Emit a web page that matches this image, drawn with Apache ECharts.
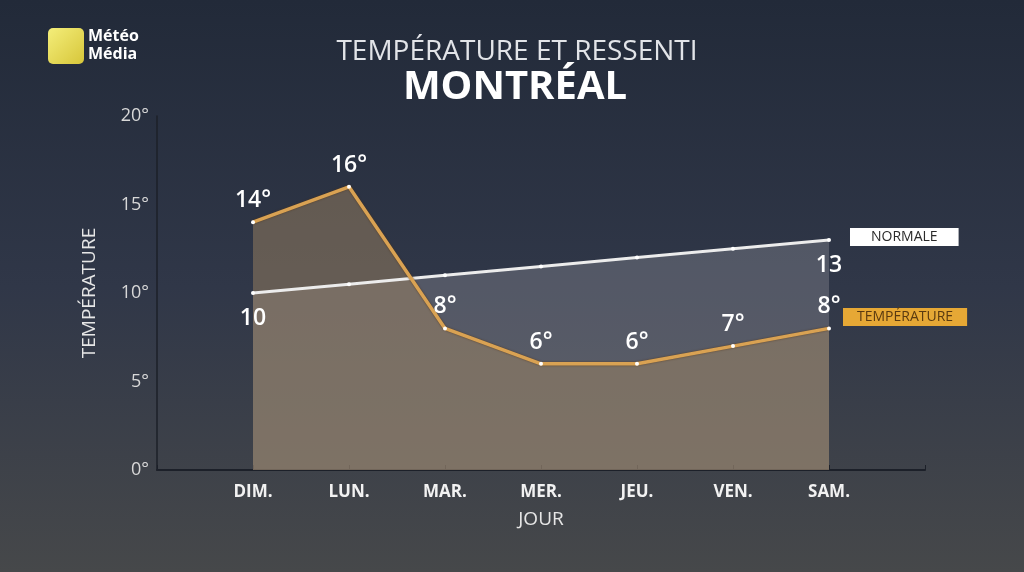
<!DOCTYPE html>
<html><head><meta charset="utf-8">
<script src="https://cdn.jsdelivr.net/npm/echarts@6/dist/echarts.min.js"></script>
<style>html,body{margin:0;padding:0;background:#2a3040}#c{width:1024px;height:572px}</style>
</head><body><div id="c"></div>
<script>
const days = ['DIM.', 'LUN.', 'MAR.', 'MER.', 'JEU.', 'VEN.', 'SAM.'];
const temperature = [14, 16, 8, 6, 6, 7, 8];
const normale = [10, 10.5, 11, 11.5, 12, 12.5, 13];
const normaleLabels = ['10', '', '', '', '', '', '13'];
const yTicks = [0, 5, 10, 15, 20];

const chart = echarts.init(document.getElementById('c'));
const font = '"Open Sans", "DejaVu Sans", sans-serif';
const tempPts = temperature.map((v, i) => [i, v]);
const normPts = normale.map((v, i) => [i, v]);
chart.setOption({
  backgroundColor: new echarts.graphic.LinearGradient(0, 0, 0, 1, [
    {offset: 0, color: '#222a39'},
    {offset: 0.5, color: '#303748'},
    {offset: 1, color: '#46484a'}
  ]),
  animation: false,
  title: [
    {text: 'TEMPÉRATURE ET RESSENTI', left: 512, top: 33, textAlign: 'center',
     textStyle: {color: '#e2e4e8', fontSize: 28, fontWeight: 'normal', fontFamily: font}},
    {text: 'MONTRÉAL', left: 510, top: 63, textAlign: 'center',
     textStyle: {color: '#ffffff', fontSize: 40, fontWeight: 'bold', fontFamily: font}}
  ],
  grid: {left: 157, right: 99, top: 116, bottom: 102},
  xAxis: {
    type: 'value', min: -1, max: 7, interval: 1,
    splitLine: {show: false},
    axisLine: {show: true, lineStyle: {color: '#1c2029', width: 2}},
    axisTick: {show: true, inside: true, length: 5, lineStyle: {color: '#1c2029'}},
    axisLabel: {
      color: '#f2f2f2', fontSize: 17, fontWeight: 'bold', fontFamily: font, margin: 14,
      formatter: v => (v >= 0 && v < days.length) ? days[v] : ''
    },
    name: 'JOUR', nameLocation: 'middle', nameGap: 40,
    nameTextStyle: {color: '#e6e6e6', fontSize: 19, fontFamily: font}
  },
  yAxis: {
    type: 'value', min: 0, max: 20, interval: 5,
    splitLine: {show: false},
    axisLine: {show: true, onZero: false, lineStyle: {color: '#1c2029', width: 1.5}},
    axisTick: {show: false},
    axisLabel: {color: '#d8d8d8', fontSize: 18, fontFamily: font, margin: 8,
      formatter: v => yTicks.includes(v) ? v + '°' : ''},
    name: 'TEMPÉRATURE', nameLocation: 'middle', nameGap: 58, nameRotate: 90,
    nameTextStyle: {color: '#e6e6e6', fontSize: 19, fontFamily: font}
  },
  series: [
    {
      type: 'line', z: 1, data: normPts, symbol: 'none', silent: true,
      lineStyle: {width: 0},
      areaStyle: {color: 'rgba(150,150,160,0.5)', origin: 'start'}
    },
    {
      type: 'line', z: 2, data: tempPts, symbol: 'none', silent: true,
      lineStyle: {width: 0},
      areaStyle: {color: 'rgba(165,136,100,0.66)', origin: 'start'}
    },
    {
      type: 'line', name: 'NORMALE', z: 3, data: normPts,
      symbol: 'circle', symbolSize: 4,
      itemStyle: {color: '#ffffff'},
      lineStyle: {color: '#ececec', width: 3},
      label: {show: true, position: 'bottom', distance: 12,
        formatter: p => normaleLabels[p.dataIndex],
        color: '#ffffff', fontSize: 23, fontFamily: font, fontWeight: 600}
    },
    {
      type: 'line', name: 'TEMPÉRATURE', z: 4, data: tempPts,
      symbol: 'circle', symbolSize: 4,
      itemStyle: {color: '#ffffff'},
      lineStyle: {color: '#d9a253', width: 3.5, shadowColor: 'rgba(80,50,20,0.8)', shadowBlur: 2},
      label: {show: true, position: 'top', distance: 8,
        formatter: p => p.value[1] + '°',
        color: '#ffffff', fontSize: 23, fontWeight: 600, fontFamily: font}
    }
  ],
  graphic: [
    {type: 'rect', left: 48, top: 28, shape: {width: 36, height: 36, r: 5},
     style: {fill: new echarts.graphic.LinearGradient(0, 0, 1, 1, [{offset: 0, color: '#f4ee7a'}, {offset: 1, color: '#d7c63a'}])}},
    {type: 'text', left: 88, top: 27, style: {text: 'Météo\nMédia', fill: '#ffffff', font: 'bold 16px ' + font, lineHeight: 18}},
    {type: 'text', left: 850, top: 228, style: {text: 'NORMALE', fill: '#2a2a2a', font: '14px ' + font,
      backgroundColor: '#ffffff', padding: [2, 21, 2, 21]}},
    {type: 'text', left: 843, top: 308, style: {text: 'TEMPÉRATURE', fill: '#5a3a10', font: '14px ' + font,
      backgroundColor: '#e6a835', padding: [2, 14, 2, 14]}}
  ]
});
</script></body></html>
